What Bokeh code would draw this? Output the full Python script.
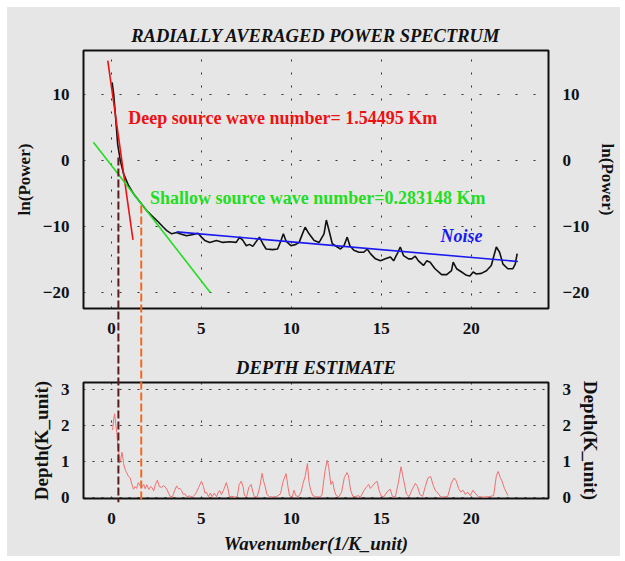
from bokeh.plotting import figure
from bokeh.layouts import column
from bokeh.models import ColumnDataSource, Label, LinearAxis, Range1d, FixedTicker
from bokeh.embed import file_html
from bokeh.resources import INLINE

# --- radially averaged power spectrum (wavenumber vs ln(power)) ---
spec_k = [0.04, 0.13, 0.22, 0.35, 0.50, 0.68, 0.96, 1.23, 1.60, 1.97, 2.34, 2.61, 2.89, 3.08,
          3.35, 3.63, 3.81, 4.18, 4.55, 4.82, 5.01, 5.19, 5.47, 5.84, 6.20, 6.57, 6.94, 7.13,
          7.31, 7.50, 7.68, 7.86, 8.23, 8.42, 8.60, 8.97, 9.24, 9.43, 9.56, 9.71, 9.98, 10.26,
          10.44, 10.62, 10.77, 10.99, 11.27, 11.55, 11.82, 11.95, 12.10, 12.28, 12.56, 12.74,
          12.93, 13.11, 13.26, 13.48, 13.76, 14.03, 14.22, 14.40, 14.68, 14.96, 15.23, 15.51,
          15.69, 15.93, 16.06, 16.24, 16.52, 16.70, 16.89, 17.07, 17.35, 17.53, 17.72, 17.99,
          18.36, 18.64, 18.91, 19.00, 19.19, 19.47, 19.74, 19.93, 20.11, 20.29, 20.57, 20.85,
          21.12, 21.27, 21.40, 21.58, 21.77, 22.04, 22.32, 22.45, 22.56]
spec_lnp = [11.9, 10.1, 7.1, 2.5, 0.0, -2.0, -3.8, -5.0, -6.3, -7.6, -8.6, -9.3, -10.1, -10.6,
            -11.1, -10.9, -11.1, -11.4, -11.2, -11.0, -11.6, -12.1, -12.4, -12.1, -12.4, -12.3,
            -12.4, -11.6, -12.1, -12.9, -12.7, -13.0, -11.6, -12.6, -13.4, -13.5, -13.4, -12.1,
            -11.1, -12.2, -12.9, -12.7, -12.4, -11.1, -10.1, -11.1, -12.1, -12.4, -11.1, -9.0,
            -10.6, -12.6, -13.1, -13.4, -12.9, -11.6, -12.9, -13.6, -13.9, -13.9, -13.4, -14.1,
            -14.9, -15.2, -14.9, -14.6, -15.2, -13.9, -13.1, -14.4, -14.9, -14.9, -14.5, -15.2,
            -15.9, -15.2, -15.4, -16.4, -17.3, -17.3, -16.7, -15.4, -16.4, -16.9, -17.4, -17.5,
            -16.9, -17.2, -17.1, -16.7, -15.9, -14.4, -13.1, -13.9, -15.7, -16.4, -16.4, -15.7,
            -14.1]

# fitted segments: deep source, shallow source, noise floor
deep_k, deep_lnp = [-0.2, 1.2], [15.2, -12.0]
shallow_k, shallow_lnp = [-1.0, 5.5], [2.8, -20.0]
noise_k, noise_lnp = [3.63, 22.6], [-10.8, -15.3]

# picked wavenumbers (dashed markers) and where they meet the spectrum
deep_pick, deep_pick_lnp = 0.39, 0.5
shallow_pick, shallow_pick_lnp = 1.66, -6.8

# --- depth estimate ---
depth_k = [0.07, 0.12, 0.18, 0.24, 0.30, 0.36, 0.40, 0.46, 0.52, 0.59, 0.64, 0.68, 0.75, 0.82,
           0.87, 0.95, 1.05, 1.12, 1.23, 1.32, 1.40, 1.50, 1.58, 1.70, 1.80, 1.88, 1.97, 2.08,
           2.18, 2.25, 2.35, 2.45, 2.56, 2.66, 2.80, 2.92, 3.08, 3.18, 3.26, 3.40, 3.52, 3.63,
           3.72, 3.82, 3.90, 4.00, 4.09, 4.20, 4.35, 4.50, 4.62, 4.73, 4.85, 5.01, 5.12, 5.20,
           5.29, 5.40, 5.50, 5.60, 5.72, 5.85, 5.95, 6.02, 6.12, 6.25, 6.39, 6.48, 6.56, 6.70,
           6.85, 7.00, 7.10, 7.22, 7.32, 7.40, 7.52, 7.64, 7.77, 7.85, 7.95, 8.10, 8.25, 8.38,
           8.46, 8.55, 8.65, 8.80, 9.00, 9.20, 9.40, 9.55, 9.71, 9.80, 9.90, 10.05, 10.15, 10.25,
           10.40, 10.55, 10.65, 10.78, 10.90, 10.98, 11.08, 11.20, 11.35, 11.55, 11.70, 11.88,
           12.00, 12.08, 12.20, 12.30, 12.40, 12.50, 12.65, 12.80, 12.95, 13.10, 13.18, 13.30,
           13.42, 13.55, 13.72, 13.85, 14.05, 14.20, 14.30, 14.40, 14.52, 14.65, 14.77, 14.88,
           15.00, 15.15, 15.32, 15.50, 15.62, 15.78, 15.95, 16.10, 16.20, 16.30, 16.40, 16.55,
           16.70, 16.90, 17.02, 17.15, 17.30, 17.45, 17.60, 17.75, 17.88, 18.00, 18.15, 18.30,
           18.50, 18.70, 18.90, 19.06, 19.18, 19.30, 19.42, 19.55, 19.68, 19.80, 19.95, 20.10,
           20.25, 20.40, 20.70, 21.00, 21.25, 21.40, 21.50, 21.62, 21.72, 21.85, 22.05]
depth_val = [1.87, 2.15, 2.32, 2.05, 1.80, 1.45, 1.30, 0.95, 1.05, 1.25, 1.10, 0.94, 0.80, 0.72,
             0.67, 0.58, 0.54, 0.40, 0.23, 0.30, 0.25, 0.41, 0.33, 0.28, 0.36, 0.24, 0.35, 0.22,
             0.30, 0.28, 0.18, 0.36, 0.48, 0.30, 0.28, 0.33, 0.23, 0.12, 0.03, 0.02, 0.20, 0.32,
             0.24, 0.25, 0.19, 0.08, 0.10, 0.02, 0.04, 0.01, 0.06, 0.14, 0.28, 0.45, 0.30, 0.12,
             0.14, 0.02, 0.12, 0.02, 0.12, 0.02, 0.15, 0.19, 0.08, 0.22, 0.41, 0.25, 0.02, 0.03,
             0.01, 0.02, 0.35, 0.45, 0.30, 0.05, 0.02, 0.28, 0.36, 0.18, 0.02, 0.01, 0.30, 0.67,
             0.45, 0.30, 0.08, 0.02, 0.01, 0.03, 0.10, 0.45, 0.66, 0.35, 0.05, 0.01, 0.20, 0.05,
             0.02, 0.15, 0.38, 0.60, 0.94, 0.45, 0.20, 0.05, 0.02, 0.01, 0.05, 0.75,
             1.03, 0.85, 0.36, 0.45, 0.18, 0.05, 0.02, 0.15, 0.55, 0.69, 0.60, 0.20,
             0.03, 0.02, 0.05, 0.01, 0.20, 0.30, 0.36, 0.25, 0.32, 0.40, 0.45, 0.20,
             0.04, 0.02, 0.15, 0.23, 0.03, 0.01, 0.40, 0.85, 0.60, 0.35, 0.10, 0.02,
             0.20, 0.39, 0.30, 0.08, 0.03, 0.30, 0.54, 0.58, 0.35, 0.20, 0.12, 0.02,
             0.01, 0.03, 0.40, 0.54, 0.45, 0.25, 0.15, 0.20, 0.08, 0.15, 0.05, 0.20,
             0.10, 0.02, 0.01, 0.02, 0.05, 0.60, 0.72, 0.55, 0.45, 0.25, 0.05]

x_ticks = [0, 5, 10, 15, 20]
lnp_ticks = [-20, -10, 0, 10]
depth_ticks = [0, 1, 2, 3]

deep_text = "Deep source wave number= 1.54495 Km"
shallow_text = "Shallow source wave number=0.283148 Km"

SERIF = "Liberation Serif"
PANEL = "#e6e6e6"
X_RANGE = (-1.55, 24.3)
LNP_RANGE = (-22.44, 16.75)
DEPTH_RANGE = (-0.03, 3.19)
DEEP_COLOR = "#5a1c1c"
SHALLOW_COLOR = "#ee6a22"

# frame geometry shared by both panels (pixels)
FRAME_LEFT, FRAME_RIGHT = 76, 69
TOP_H, TOP_BORDER_T, TOP_BORDER_B = 338, 43, 37
BOT_H, BOT_BORDER_T, BOT_BORDER_B = 211, 37, 54
WIDTH = 613


def style_axes(p, ticks, label, label_size):
    for ax in p.yaxis:
        ax.ticker = FixedTicker(ticks=ticks)
        ax.axis_label = label
    for ax in list(p.xaxis) + list(p.yaxis):
        ax.axis_line_color = None
        ax.major_tick_line_color = None
        ax.minor_tick_line_color = None
        ax.major_label_text_font = SERIF
        ax.major_label_text_font_style = "bold"
        ax.major_label_text_font_size = "17px"
        ax.major_label_text_color = "#111111"
        ax.axis_label_text_font = SERIF
        ax.axis_label_text_font_style = "bold"
        ax.axis_label_text_font_size = label_size
        ax.axis_label_text_color = "#111111"
        ax.major_label_standoff = 8
        ax.axis_label_standoff = 6
    p.xaxis.ticker = FixedTicker(ticks=x_ticks)


def base_figure(height, yr, title, border_top, border_bottom):
    p = figure(width=WIDTH, height=height, x_range=Range1d(*X_RANGE), y_range=Range1d(*yr),
               output_backend="svg", toolbar_location=None, title=title,
               min_border_left=FRAME_LEFT, min_border_right=FRAME_RIGHT,
               min_border_top=border_top, min_border_bottom=border_bottom)
    p.background_fill_color = PANEL
    p.border_fill_color = PANEL
    p.outline_line_color = "#111111"
    p.outline_line_width = 2
    p.title.align = "center"
    p.title.text_font = SERIF
    p.title.text_font_style = "bold italic"
    p.title.text_font_size = "18.5px"
    p.title.text_color = "#111111"
    p.add_layout(LinearAxis(), "right")
    return p


# ---------------- power spectrum panel ----------------
top = base_figure(TOP_H, LNP_RANGE, "RADIALLY AVERAGED POWER SPECTRUM", TOP_BORDER_T, TOP_BORDER_B)
style_axes(top, lnp_ticks, "ln(Power)", "17px")
top.xgrid.grid_line_color = "#333333"
top.xgrid.grid_line_dash = "2 11"
top.ygrid.grid_line_color = "#333333"
top.ygrid.grid_line_dash = "2 16"
top.ygrid.ticker = FixedTicker(ticks=lnp_ticks)
top.xgrid.ticker = FixedTicker(ticks=x_ticks)

spec = ColumnDataSource(dict(k=spec_k, lnp=spec_lnp))
top.line("k", "lnp", source=spec, color="#111111", line_width=1.6)
top.line(deep_k, deep_lnp, color="#ee1111", line_width=1.6)
top.line(shallow_k, shallow_lnp, color="#22dd22", line_width=1.6)
top.line(noise_k, noise_lnp, color="#1a1aee", line_width=1.6)

top.add_layout(Label(x=0.94, y=6.5, text=deep_text, text_color="#ee1111",
                     text_font=SERIF, text_font_style="bold", text_font_size="18px",
                     text_baseline="middle"))
top.add_layout(Label(x=2.15, y=-5.6, text=shallow_text, text_color="#22dd22",
                     text_font=SERIF, text_font_style="bold", text_font_size="18px",
                     text_baseline="middle"))
top.add_layout(Label(x=18.3, y=-11.4, text="Noise", text_color="#1a1aee",
                     text_font=SERIF, text_font_style="bold italic", text_font_size="18px",
                     text_baseline="middle"))

# ---------------- depth estimate panel ----------------
bot = base_figure(BOT_H, DEPTH_RANGE, "DEPTH ESTIMATE", BOT_BORDER_T, BOT_BORDER_B)
style_axes(bot, depth_ticks, "Depth(K_unit)", "19px")
bot.xaxis[0].axis_label = "Wavenumber(1/K_unit)"
bot.xaxis[0].axis_label_text_font_style = "bold italic"
bot.xaxis[0].axis_label_text_font_size = "19px"
bot.xgrid.grid_line_color = "#333333"
bot.xgrid.grid_line_dash = "2 36"
bot.ygrid.grid_line_color = "#333333"
bot.ygrid.grid_line_dash = "2 7"
bot.ygrid.ticker = FixedTicker(ticks=depth_ticks)
bot.xgrid.ticker = FixedTicker(ticks=x_ticks)

depth = ColumnDataSource(dict(k=depth_k, d=depth_val))
bot.line("k", "d", source=depth, color="#f07070", line_width=1)

# ---------------- pick markers spanning both panels ----------------
# a transparent layer the size of the whole stack; its frame runs from the top of the
# spectrum frame to the bottom of the depth frame, on the spectrum's ln(power) scale
total_h = TOP_H + BOT_H
top_frame_h = TOP_H - TOP_BORDER_T - TOP_BORDER_B
px_per_unit = top_frame_h / (LNP_RANGE[1] - LNP_RANGE[0])
span_h = total_h - TOP_BORDER_T - BOT_BORDER_B
span_bottom = LNP_RANGE[1] - span_h / px_per_unit

ov = figure(width=WIDTH, height=total_h,
            x_range=Range1d(*X_RANGE), y_range=Range1d(span_bottom, LNP_RANGE[1]),
            x_axis_type=None, y_axis_type=None, output_backend="svg", toolbar_location=None,
            min_border_left=FRAME_LEFT, min_border_right=FRAME_RIGHT,
            min_border_top=TOP_BORDER_T, min_border_bottom=BOT_BORDER_B,
            styles={"position": "absolute", "top": "0px", "left": "0px",
                    "width": f"{WIDTH}px", "height": f"{total_h}px",
                    "pointer-events": "none"})
ov.grid.visible = False
ov.outline_line_color = None
ov.background_fill_alpha = 0
ov.border_fill_alpha = 0
for kx, ky, col in [(deep_pick, deep_pick_lnp, DEEP_COLOR),
                    (shallow_pick, shallow_pick_lnp, SHALLOW_COLOR)]:
    ov.line([kx, kx], [ky, span_bottom], color=col, line_width=2, line_dash="8 3")

layout = column(top, bot, ov, spacing=0, margin=(7, 0, 0, 7),
                styles={"background-color": PANEL})
open("out.html", "w").write(file_html(layout, INLINE))
